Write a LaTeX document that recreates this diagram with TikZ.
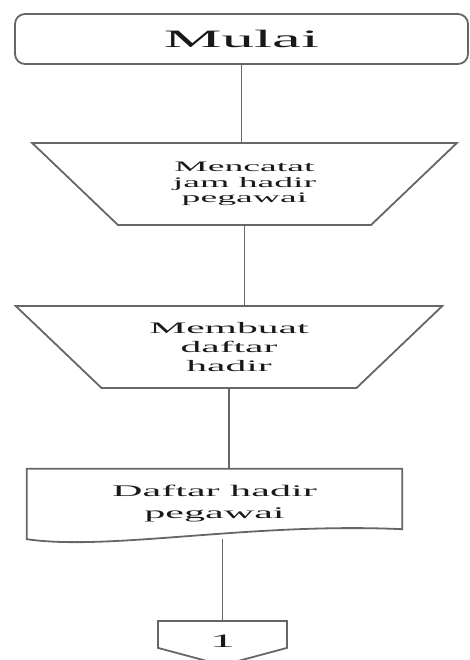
\documentclass[tikz,border=0pt]{standalone}
\usepackage{fontspec}
\setmainfont{Liberation Serif}[FakeStretch=2.6]
\usetikzlibrary{shapes.geometric,shapes.symbols}

\begin{document}
\begin{tikzpicture}[x=1pt, y=1pt,
  outline/.style={draw=black!60, line width=1.8pt},
  term/.style={outline, rectangle, rounded corners=10pt, minimum width=453pt, minimum height=50pt, text=black!90, font=\fontsize{25}{28}\selectfont},
  manual/.style={outline, trapezium, trapezium left angle=135, trapezium right angle=135, trapezium stretches=true, minimum height=82pt, align=center, text=black!90},
  docbox/.style={rectangle, minimum width=375pt, minimum height=70pt, align=center, text=black!90, font=\fontsize{16.2}{22}\selectfont},
  offpage/.style={outline, signal, signal to=south, signal pointer angle=150, minimum width=129pt, inner ysep=0pt, text height=27pt, text depth=0pt, text=black!90, font=\fontsize{19}{22}\selectfont}]
\useasboundingbox (0,0) rectangle (470,-660);

% Start
\node (mulai) [term] at (241.5,-39) {Mulai};

% Manual operations
\node (catat) [manual, minimum width=425pt, font=\fontsize{14.5}{15.8}\selectfont] at (244.5,-184) {Mencatat\\jam hadir\\pegawai};
\node (buat)  [manual, minimum width=428pt, font=\fontsize{16}{19}\selectfont] at (229,-347) {Membuat\\daftar\\hadir};

% Document
\node (daftar) [docbox] at (214.5,-504) {Daftar hadir\\pegawai};
\draw [outline] (daftar.north west) -- (daftar.north east) -- ([yshift=10pt]daftar.south east)
  .. controls +(-152,7) and +(83,-12) .. (daftar.south west) -- cycle;

% Off-page connector
\node (sambung) [offpage, anchor=north] at (222.5,-620) {1};

% Connections
\draw [outline] (mulai.south) -- (mulai.south |- catat.north);
\draw [outline] (catat.south) -- (catat.south |- buat.north);
\draw [outline] (buat.south) -- (buat.south |- daftar.north);
\draw [outline] (sambung.north |- daftar.south) -- (sambung.north);

\end{tikzpicture}
\end{document}
